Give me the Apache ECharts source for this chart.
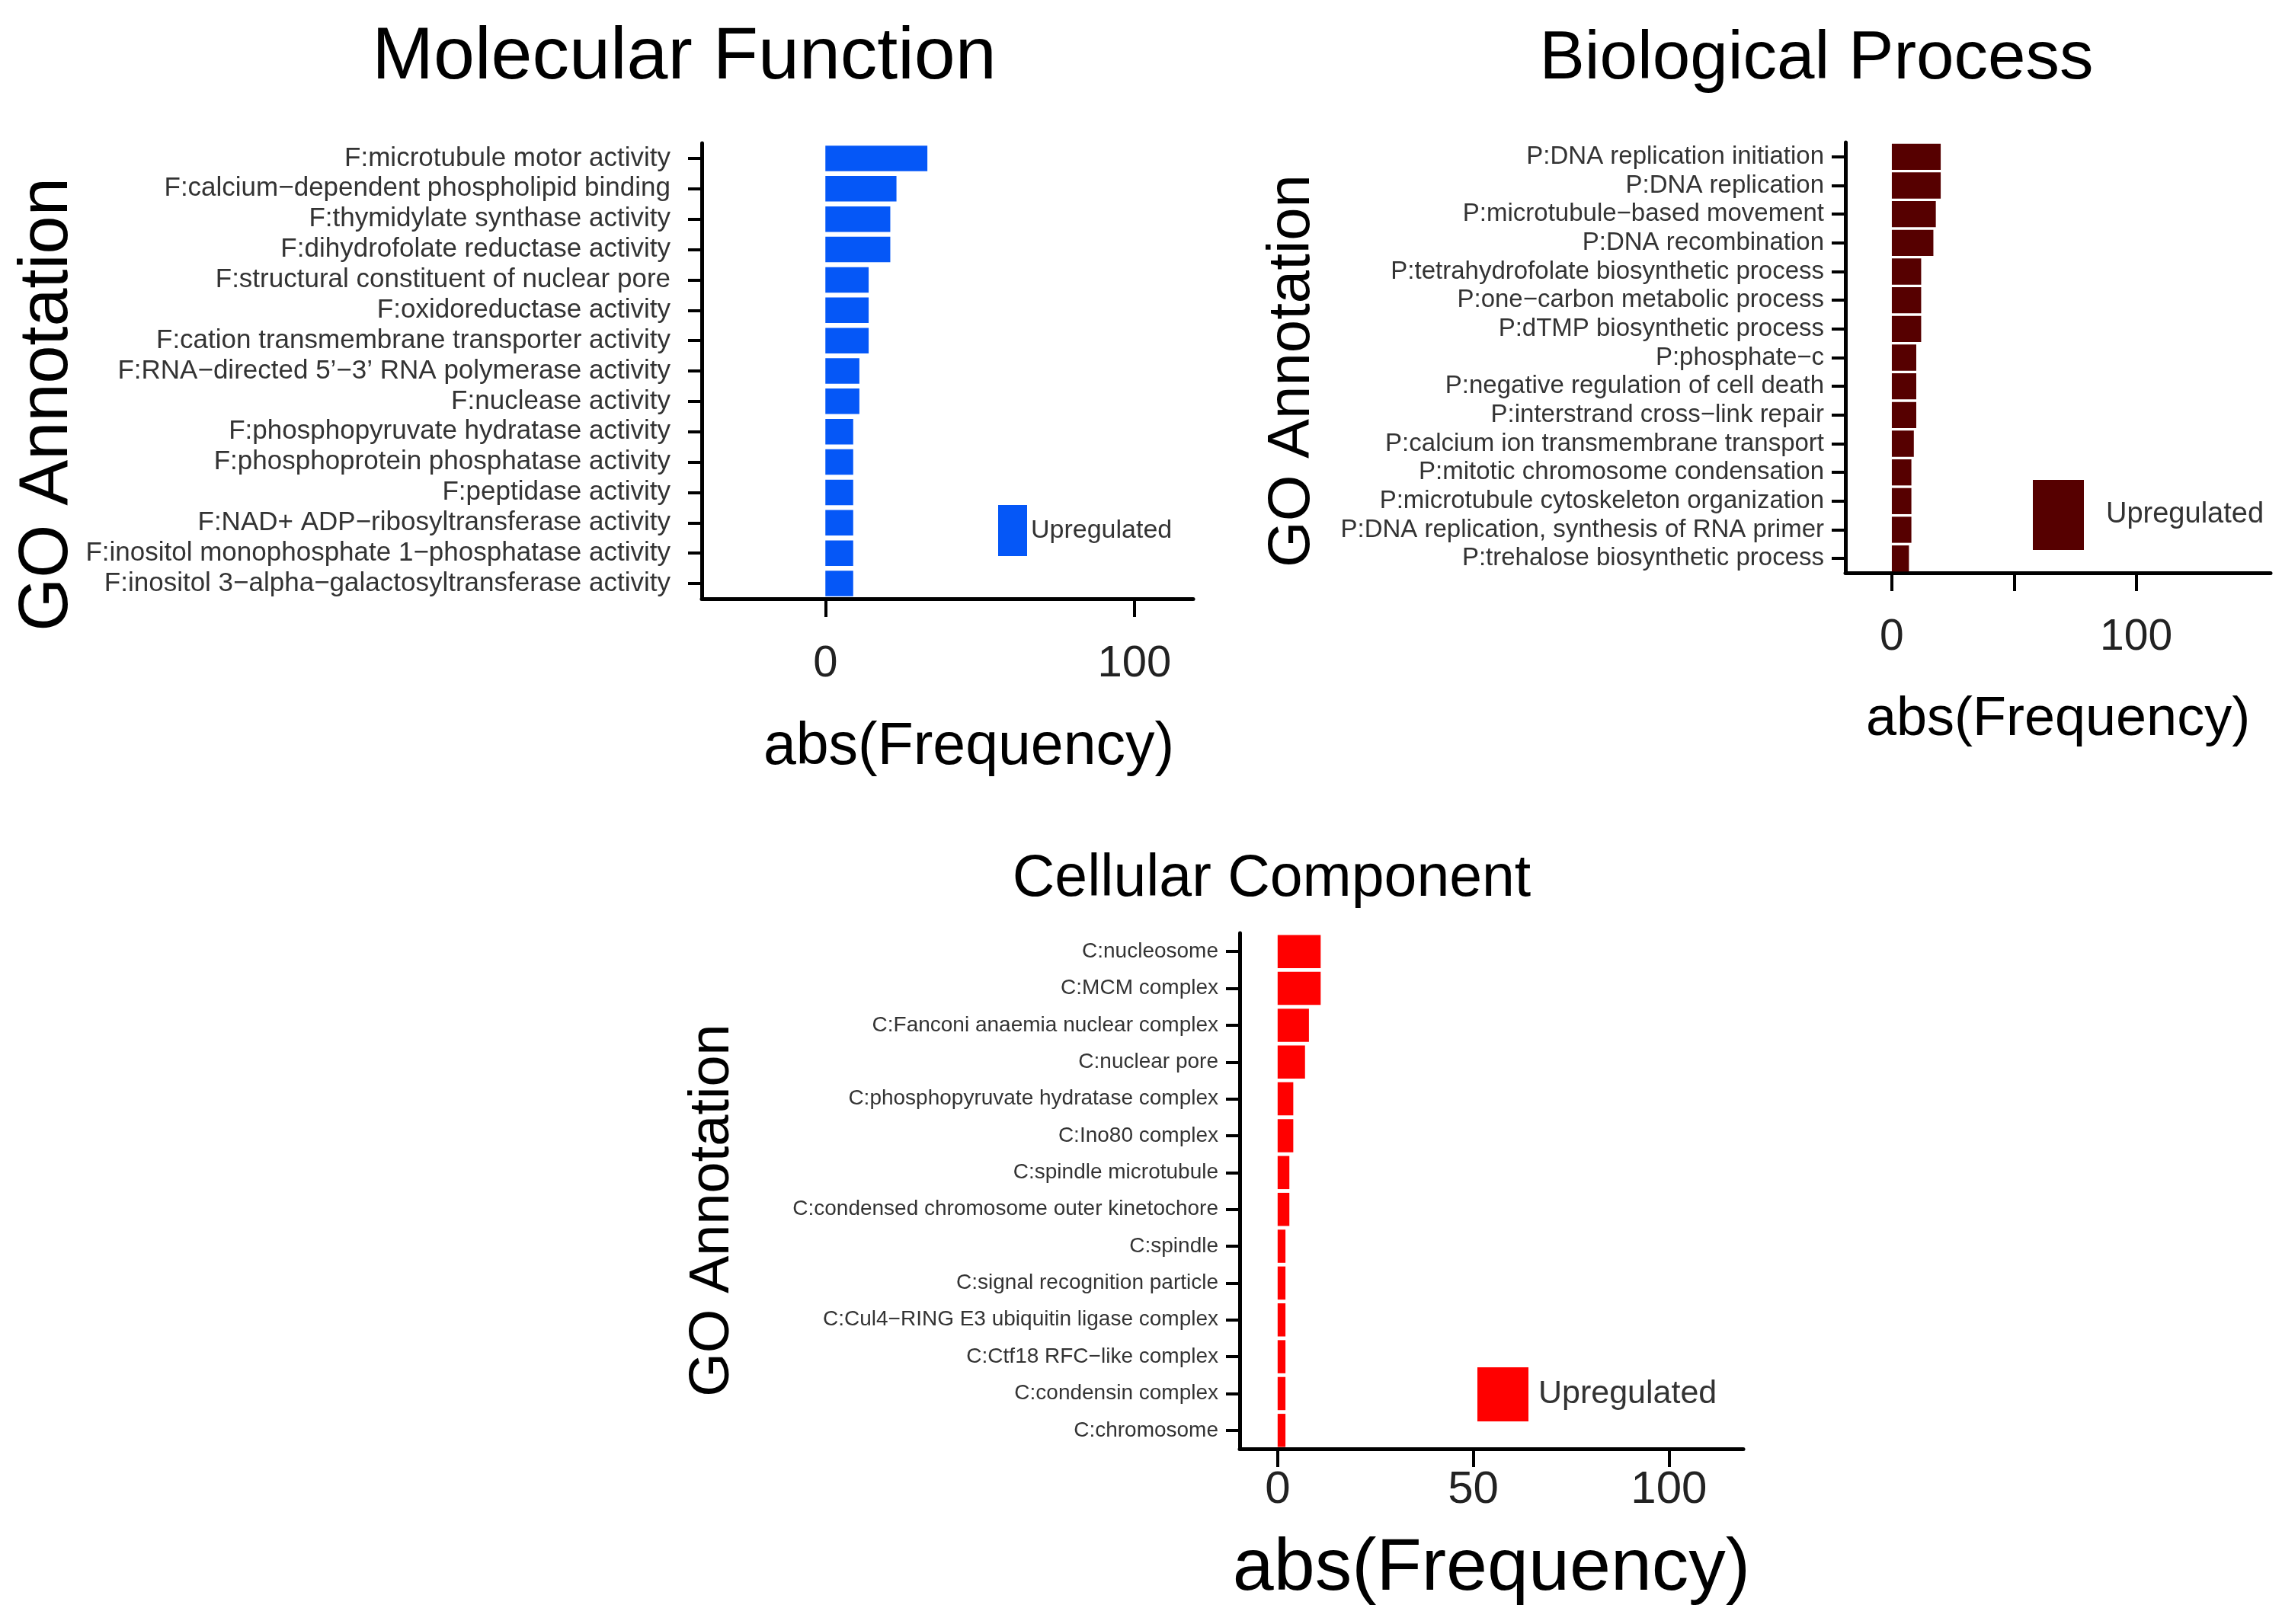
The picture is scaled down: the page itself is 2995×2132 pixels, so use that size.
<!DOCTYPE html>
<html><head><meta charset="utf-8">
<script src="https://cdn.jsdelivr.net/npm/echarts@6/dist/echarts.min.js"></script>
<style>html,body{margin:0;padding:0;background:#fff}#c{width:2995px;height:2132px}</style>
</head><body><div id="c"></div>
<script>
// ---------- data ----------
const mfCategories = [
  "F:microtubule motor activity",
  "F:calcium\u2212dependent phospholipid binding",
  "F:thymidylate synthase activity",
  "F:dihydrofolate reductase activity",
  "F:structural constituent of nuclear pore",
  "F:oxidoreductase activity",
  "F:cation transmembrane transporter activity",
  "F:RNA\u2212directed 5\u2019\u22123\u2019 RNA polymerase activity",
  "F:nuclease activity",
  "F:phosphopyruvate hydratase activity",
  "F:phosphoprotein phosphatase activity",
  "F:peptidase activity",
  "F:NAD+ ADP\u2212ribosyltransferase activity",
  "F:inositol monophosphate 1\u2212phosphatase activity",
  "F:inositol 3\u2212alpha\u2212galactosyltransferase activity"
];
const mfValues = [33, 23, 21, 21, 14, 14, 14, 11, 11, 9, 9, 9, 9, 9, 9];

const bpCategories = [
  "P:DNA replication initiation",
  "P:DNA replication",
  "P:microtubule\u2212based movement",
  "P:DNA recombination",
  "P:tetrahydrofolate biosynthetic process",
  "P:one\u2212carbon metabolic process",
  "P:dTMP biosynthetic process",
  "P:phosphate\u2212c",
  "P:negative regulation of cell death",
  "P:interstrand cross\u2212link repair",
  "P:calcium ion transmembrane transport",
  "P:mitotic chromosome condensation",
  "P:microtubule cytoskeleton organization",
  "P:DNA replication, synthesis of RNA primer",
  "P:trehalose biosynthetic process"
];
const bpValues = [20, 20, 18, 17, 12, 12, 12, 10, 10, 10, 9, 8, 8, 8, 7];

const ccCategories = [
  "C:nucleosome",
  "C:MCM complex",
  "C:Fanconi anaemia nuclear complex",
  "C:nuclear pore",
  "C:phosphopyruvate hydratase complex",
  "C:Ino80 complex",
  "C:spindle microtubule",
  "C:condensed chromosome outer kinetochore",
  "C:spindle",
  "C:signal recognition particle",
  "C:Cul4\u2212RING E3 ubiquitin ligase complex",
  "C:Ctf18 RFC\u2212like complex",
  "C:condensin complex",
  "C:chromosome"
];
const ccValues = [11, 11, 8, 7, 4, 4, 3, 3, 2, 2, 2, 2, 2, 2];

const mfTicks = [0, 100];
const mfTickLabels = [0, 100];
const bpTicks = [0, 50, 100];
const bpTickLabels = [0, 100];
const ccTicks = [0, 50, 100];
const ccTickLabels = [0, 50, 100];

const seriesName = "Upregulated";
const panelTitles = ["Molecular Function", "Biological Process", "Cellular Component"];
const xName = "abs(Frequency)";
const yName = "GO Annotation";

// ---------- styles ----------
const SANS = '"Liberation Sans", Arial, Helvetica, sans-serif';
const mfColor = '#0557f7';
const bpColor = '#560000';
const ccColor = '#ff0000';

function xAxisCfg(gi, min, max, ticks, labels, fsize, margin, nameSize, nameGap, namePad) {
  return {
    type: 'value', gridIndex: gi, min: min, max: max,
    name: xName, nameLocation: 'middle', nameGap: nameGap,
    nameTextStyle: { fontFamily: SANS, fontSize: nameSize, color: '#000', padding: namePad },
    axisLine: { show: true, onZero: false, lineStyle: { color: '#000', width: 5 } },
    axisTick: { show: true, customValues: ticks, length: 24, lineStyle: { color: '#000', width: 4 } },
    axisLabel: { customValues: labels, fontFamily: SANS, fontSize: fsize, color: '#222', margin: margin },
    splitLine: { show: false }
  };
}
function yAxisCfg(gi, cats, fsize, margin) {
  return {
    type: 'category', gridIndex: gi, data: cats, inverse: true,
    axisLine: { show: true, onZero: false, lineStyle: { color: '#000', width: 5 } },
    axisTick: { show: true, alignWithLabel: true, length: 18, lineStyle: { color: '#000', width: 4 } },
    axisLabel: { interval: 0, fontFamily: SANS, fontSize: fsize, color: '#333', margin: margin },
    splitLine: { show: false }
  };
}
function rotText(x, y, size) {
  return { type: 'text', x: x, y: y, rotation: Math.PI / 2,
    style: { text: yName, fontFamily: SANS, fontSize: size, fill: '#000', align: 'center', verticalAlign: 'middle' } };
}
function titleCfg(text, x, top, size) {
  return { text: text, left: x, top: top, textAlign: 'center', padding: 0,
    textStyle: { fontFamily: SANS, fontSize: size, fontWeight: 'normal', color: '#000' } };
}
function legendCfg(color, left, top, w, h, fsize, gapPad) {
  return { show: true, left: left, top: top, padding: 0, itemWidth: w, itemHeight: h, icon: 'rect',
    selectedMode: false, orient: 'vertical',
    data: [{ name: seriesName, itemStyle: { color: color } }],
    textStyle: { fontFamily: SANS, fontSize: fsize, color: '#333', padding: [0, 0, 0, gapPad] } };
}

const chart = echarts.init(document.getElementById('c'), null, { renderer: 'canvas' });
chart.setOption({
  backgroundColor: '#ffffff',
  animation: false,
  title: [
    titleCfg(panelTitles[0], 898, 28, 97),
    titleCfg(panelTitles[1], 2384, 34, 89),
    titleCfg(panelTitles[2], 1669, 1116, 77)
  ],
  grid: [
    { left: 921, top: 188, width: 645, height: 598, containLabel: false, outerBoundsMode: 'none' },
    { left: 2422, top: 187, width: 558, height: 565, containLabel: false, outerBoundsMode: 'none' },
    { left: 1627, top: 1225, width: 661, height: 677, containLabel: false, outerBoundsMode: 'none' }
  ],
  xAxis: [
    xAxisCfg(0, -40, 119, mfTicks, mfTickLabels, 58, 57, 77, 157, [0, 0, 0, 56]),
    xAxisCfg(1, -19, 155, bpTicks, bpTickLabels, 57, 57, 72, 157, 0),
    xAxisCfg(2, -9.7, 119, ccTicks, ccTickLabels, 60, 24, 97, 110, 0)
  ],
  yAxis: [
    yAxisCfg(0, mfCategories, 35, 41),
    yAxisCfg(1, bpCategories, 33, 28),
    yAxisCfg(2, ccCategories, 28, 28)
  ],
  legend: [
    legendCfg(mfColor, 1310, 663, 38, 67, 34, 0),
    legendCfg(bpColor, 2668, 630, 67, 92, 38, 24),
    legendCfg(ccColor, 1939, 1795, 67, 71, 43, 8)
  ],
  series: [
    { name: seriesName, type: 'bar', xAxisIndex: 0, yAxisIndex: 0, data: mfValues,
      barCategoryGap: '16%', itemStyle: { color: mfColor } },
    { name: seriesName, type: 'bar', xAxisIndex: 1, yAxisIndex: 1, data: bpValues,
      barCategoryGap: '9%', itemStyle: { color: bpColor } },
    { name: seriesName, type: 'bar', xAxisIndex: 2, yAxisIndex: 2, data: ccValues,
      barCategoryGap: '10%', itemStyle: { color: ccColor } }
  ],
  graphic: [
    rotText(63, 531, 90),
    rotText(1696, 487, 78),
    rotText(936, 1589, 74)
  ]
});
</script>
</body></html>
